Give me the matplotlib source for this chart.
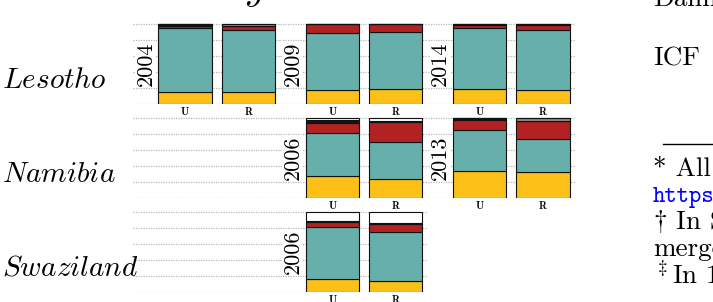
# -*- coding:utf-8 -*-
import matplotlib
matplotlib.use('Agg')
import matplotlib.pyplot as plt
import numpy as np

plt.rcParams['mathtext.fontset'] = 'cm'

# 国家与调查
countries = ['Lesotho', 'Namibia', 'Swaziland']
# (国家行, 列, 年份)
surveys = [(0, 0, '2004'), (0, 1, '2009'), (0, 2, '2014'),
           (1, 1, '2006'), (1, 2, '2013'),
           (2, 1, '2006')]
empty_panels = [(1, 0), (2, 0)]
areas = ['U', 'R']

# 各类别比例，每个调查 [U, R]
share_yellow = [[.152, .152], [.173, .181], [.181, .173], [.267, .230], [.336, .316], [.156, .140]]
share_teal = [[.795, .770], [.707, .712], [.766, .749], [.536, .463], [.516, .413], [.651, .605]]
share_red = [[.028, .049], [.113, .097], [.041, .062], [.136, .258], [.120, .234], [.065, .098]]
share_black = [[.025, .000], [.007, .010], [.012, .016], [.026, .010], [.028, .000], [.013, .012]]
share_grey = [[.000, .029], [.000, .000], [.000, .000], [.000, .000], [.000, .037], [.000, .000]]
share_white = [[.000, .000], [.000, .000], [.000, .000], [.035, .039], [.000, .000], [.115, .145]]

layers = [share_yellow, share_teal, share_red, share_black, share_grey, share_white]
colors = ['#FDC019', '#67AFAA', '#B22222', '#151515', '#8C8C8C', '#FFFFFF']

W, H = 713, 302
fig = plt.figure(figsize=(W / 100, H / 100), dpi=100)


def panel(row, col):
    left = 133 + 147.3 * col
    top = 23.2 + 94 * row
    ax = fig.add_axes([left / W, 1 - (top + 81) / H, 147.3 / W, 81 / H])
    ax.set_xlim(-0.821, 1.505)
    ax.set_ylim(-0.006, 1.006)
    ax.set_yticks(np.arange(0, 1.01, 0.2))
    ax.set_yticklabels([])
    ax.tick_params(axis='both', length=0)
    ax.yaxis.grid(True, color='#b8b8b8', linestyle=(0, (1, 1)), linewidth=0.9)
    ax.set_axisbelow(True)
    for s in ax.spines.values():
        s.set_visible(False)
    ax.set_xticks([])
    return ax


# 空白面板
for r, c in empty_panels:
    panel(r, c)

# 堆叠柱状图
for i, (r, c, year) in enumerate(surveys):
    ax = panel(r, c)
    x = np.arange(len(areas))
    bottom = np.zeros(len(areas))
    for layer, col in zip(layers, colors):
        vals = np.array(layer[i])
        ax.bar(x, vals, bottom=bottom, width=0.842, color=col,
               edgecolor='#111111', linewidth=0.8)
        bottom += vals
    ax.set_xticks(x)
    ax.set_xticklabels(areas, fontfamily='cmb10', fontsize=7.5)
    ax.tick_params(axis='x', pad=2)
    ax.text(0.088, 0.5, year, transform=ax.transAxes, rotation=90,
            ha='center', va='center', fontfamily='cmr10', fontsize=16,
            bbox=dict(facecolor='white', edgecolor='none', pad=0.3))

# 国家名称
for r, name in enumerate(countries):
    fig.text(2 / W, 1 - (88 + 94 * r) / H, r'$\mathit{%s}$' % name,
             fontsize=21, ha='left', va='baseline')

# 标题残留
fig.text(244 / W, 1 - 0 / H, r'$y$', fontsize=28, ha='left', va='baseline')

# 右侧文字
fs = 19.5
fig.text(653 / W, 1 - 6 / H, 'Damien', fontfamily='cmr10', fontsize=fs, va='baseline')
fig.text(653 / W, 1 - 66 / H, 'ICF', fontfamily='cmr10', fontsize=fs, va='baseline')
fig.add_artist(plt.Line2D([663 / W, 1.0], [1 - 144 / H, 1 - 144 / H], color='black', linewidth=1.0))
fig.text(653 / W, 1 - 176 / H, '* All surveys', fontfamily='cmr10', fontsize=fs, va='baseline')
fig.text(653 / W, 1 - 202 / H, 'https://dhsprogram.com', fontfamily='cmtt10', fontsize=fs - 2.5,
         va='baseline', color='blue')
fig.text(653 / W, 1 - 229 / H, r'$\dagger$ In Swaziland', fontfamily='cmr10', fontsize=fs, va='baseline')
fig.text(653 / W, 1 - 256 / H, 'merged', fontfamily='cmr10', fontsize=fs, va='baseline')
fig.text(653 / W, 1 - 283 / H, r'$^\ddagger$In 1990', fontfamily='cmr10', fontsize=fs, va='baseline')

plt.savefig('out.png', dpi=100)
